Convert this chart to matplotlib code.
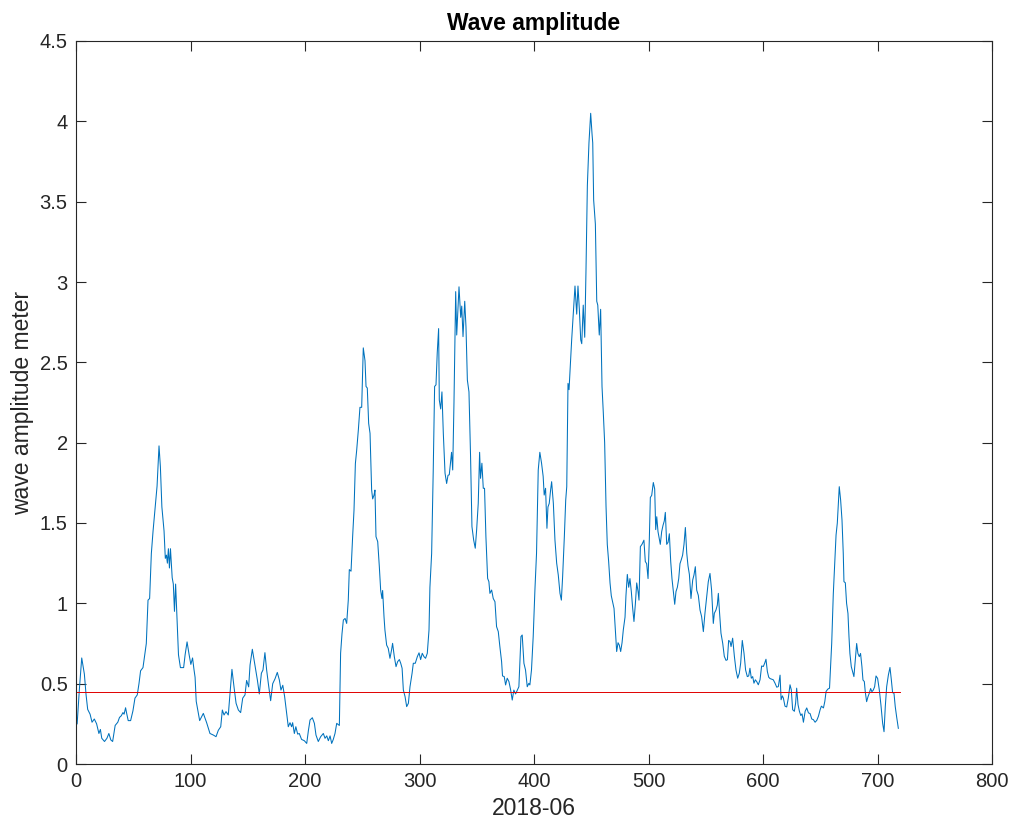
import matplotlib
matplotlib.use("Agg")
import matplotlib.pyplot as plt

# wave amplitude samples (sample index, metres)
x_a = [1, 3, 5, 7.3, 8.8, 10.2, 12.3, 14, 16, 18, 20, 21.3, 22.5, 24.9, 27, 28.7, 30.4, 32,
       34.2, 36.5, 38, 39.5, 41, 42, 43.3, 44.4, 45.6, 47.7, 49.7, 51.5, 53.5, 55, 56.4, 58.5,
       60, 61.4, 62.9, 64.3, 65.8, 67.3, 68.7, 70.8, 72.5, 73.7, 75, 76.9, 78, 79, 79.8, 80.7,
       81.6, 82.5, 84, 85, 86, 87, 88.3, 89.5, 91.2, 94, 95.3, 97, 98.8, 100.3, 101.8, 103,
       104, 105, 106.7, 108]
y_a = [0.25, 0.47, 0.66, 0.56, 0.43, 0.34, 0.31, 0.26, 0.28, 0.25, 0.19, 0.215, 0.16, 0.14,
       0.16, 0.19, 0.15, 0.14, 0.24, 0.26, 0.29, 0.30, 0.32, 0.31, 0.35, 0.31, 0.27, 0.27, 0.33,
       0.41, 0.43, 0.50, 0.58, 0.60, 0.68, 0.75, 1.02, 1.03, 1.31, 1.45, 1.56, 1.73, 1.98, 1.85,
       1.60, 1.45, 1.28, 1.30, 1.25, 1.34, 1.22, 1.34, 1.16, 1.12, 0.95, 1.12, 0.89, 0.68, 0.60,
       0.60, 0.68, 0.76, 0.68, 0.62, 0.66, 0.59, 0.54, 0.39, 0.32, 0.27]

x_b = [111.2, 114.1, 117, 120, 122.3, 124.3, 126.4, 127.8, 129.3, 131, 133, 134.5, 136.2, 138,
       139.8, 141.8, 143.8, 145.6, 147.6, 149, 150.8, 152, 154, 155.5, 157, 158.4, 160.1, 161.9,
       163.3, 165, 166.5, 168, 170, 171.8, 173.8, 175.8, 177.6, 179, 180.6, 182.2, 184, 185.4,
       186.9, 188.3, 189.2, 190.7, 192, 193.6, 195, 197, 199.4, 201.5, 203, 204.4, 206.4, 208.2,
       209.6, 211.6, 213.7, 216, 217.5, 219, 220.4, 221.9, 223.3, 224.7, 226.2, 227.7]
y_b = [0.315, 0.257, 0.19, 0.18, 0.17, 0.21, 0.232, 0.336, 0.305, 0.326, 0.305, 0.44, 0.589,
       0.48, 0.378, 0.336, 0.32, 0.41, 0.43, 0.52, 0.48, 0.616, 0.714, 0.65, 0.585, 0.523, 0.436,
       0.565, 0.585, 0.693, 0.585, 0.50, 0.394, 0.50, 0.53, 0.57, 0.523, 0.46, 0.49, 0.42, 0.315,
       0.232, 0.257, 0.232, 0.257, 0.19, 0.232, 0.186, 0.19, 0.153, 0.145, 0.128, 0.21, 0.274,
       0.288, 0.253, 0.18, 0.14, 0.17, 0.19, 0.16, 0.175, 0.145, 0.175, 0.128, 0.153, 0.19, 0.253]

x_c = [230, 231.1, 232.3, 233.5, 235, 236.4, 237.8, 238.7, 240.2, 241.6, 242.8, 244, 245.1,
       246.6, 248, 249.5, 250.9, 252.4, 253.3, 254.4, 255.6, 256.8, 258.2, 259.1, 260.3, 261.1,
       262, 263.5, 264.9, 266.1, 267.2, 267.8, 269, 269.8, 271.3, 272.7, 274.2, 275.6, 276.5,
       278, 279.5, 280.9, 282.4, 283.6, 284.8, 285.9, 287.4, 288.8, 290.3, 291.7, 293.5, 294.6,
       296.3, 298.1, 299.6, 301, 302.4, 303.9, 305.3, 306.8, 308.3, 309.1, 310.6, 312, 313.2,
       314.4, 315.5, 316.7, 317.3, 318.5, 319.6, 320.8, 322.3, 323.7, 324.9, 326]
y_c = [0.24, 0.69, 0.81, 0.896, 0.906, 0.875, 1.02, 1.21, 1.20, 1.415, 1.58, 1.87, 1.95, 2.08,
       2.22, 2.22, 2.59, 2.51, 2.35, 2.34, 2.12, 2.058, 1.705, 1.65, 1.674, 1.705, 1.415, 1.384,
       1.23, 1.08, 1.03, 1.08, 0.917, 0.834, 0.74, 0.72, 0.658, 0.71, 0.751, 0.668, 0.606, 0.637,
       0.65, 0.627, 0.596, 0.46, 0.419, 0.357, 0.378, 0.481, 0.564, 0.627, 0.627, 0.668, 0.692,
       0.65, 0.689, 0.668, 0.658, 0.689, 0.834, 1.10, 1.31, 1.83, 2.35, 2.36, 2.56, 2.71, 2.265,
       2.21, 2.316, 2.058, 1.81, 1.746, 1.797, 1.80]

x_d = [328, 329, 330.1, 331.6, 332.5, 334.5, 336, 336.9, 338, 339.5, 340.6, 341.8, 343.2, 344.6,
       345.8, 347.3, 348.7, 349.9, 351.3, 352.5, 353.3, 354.5, 355.7, 356.8, 358, 359.5, 360.6,
       361.5, 363, 364.4, 365.9, 367.3, 368.8, 370.2, 371.7, 372.5, 374, 375.2, 376.6, 378.1,
       379.5, 381, 382.4, 383.9, 385.3, 386.8, 388.6, 389.7, 391.2, 392.6, 394.1, 395.5, 396.4,
       397.8, 399.3, 400.8, 402.2, 403.7, 405.1, 406.6, 408, 408.9, 410.1, 411.3, 412.2, 413.3,
       414.5, 415.4, 416.9, 418.3, 419.8, 421.2, 422.7, 423.9, 425, 426.5, 427.7, 428.6, 429.7,
       430.6]
y_d = [1.94, 1.83, 2.245, 2.94, 2.67, 2.97, 2.78, 2.85, 2.66, 2.88, 2.72, 2.39, 2.316, 1.913,
       1.478, 1.394, 1.343, 1.457, 1.622, 1.94, 1.778, 1.872, 1.716, 1.716, 1.415, 1.155, 1.135,
       1.062, 1.083, 1.03, 1.01, 0.855, 0.824, 0.73, 0.637, 0.548, 0.544, 0.492, 0.534, 0.513,
       0.465, 0.398, 0.46, 0.436, 0.457, 0.481, 0.793, 0.803, 0.627, 0.585, 0.481, 0.502, 0.492,
       0.585, 0.793, 1.083, 1.31, 1.83, 1.94, 1.872, 1.79, 1.674, 1.716, 1.467, 1.60, 1.622,
       1.705, 1.757, 1.622, 1.394, 1.25, 1.176, 1.062, 1.02, 1.166, 1.415, 1.643, 1.726, 2.369,
       2.33]

x_e = [432.9, 434.3, 435.8, 437.3, 438.4, 439.6, 440.8, 441.7, 443, 444.3, 445.4, 446.6, 448,
       449.5, 450.7, 451.3, 452.1, 453.6, 454.8, 455.7, 457, 458.2, 459.4, 460.5, 461.7, 462.9,
       464, 465.2, 466.4, 467.5, 468.7, 469.9, 471, 472.2, 473.4, 474.5, 475.7, 476.9, 478,
       479.5, 480.3, 481.5, 482.7, 483.8, 485, 486.2, 487.3, 488.5, 489.7, 490.9, 491.7, 492.9,
       494.3, 496, 497.2, 498.4, 499.6, 500.7, 501.6, 502.8, 504.2, 505.4, 506.3, 507.2, 508.3,
       510.3, 511.5, 512.7, 513.8, 514.7, 515.9, 517.1, 518.2, 519.4, 520.5, 521.7, 522.9, 524,
       525.2, 526.4, 527.5, 528.7, 529.8, 531, 532.2, 533.4, 534.5, 535.7]
y_e = [2.64, 2.80, 2.975, 2.80, 2.975, 2.83, 2.64, 2.616, 2.856, 2.656, 3.07, 3.60, 3.866, 4.05,
       3.92, 3.866, 3.51, 3.36, 2.88, 2.856, 2.67, 2.83, 2.35, 2.19, 2.00, 1.605, 1.367, 1.26,
       1.127, 1.047, 1.007, 0.968, 0.835, 0.70, 0.755, 0.74, 0.70, 0.755, 0.835, 0.914, 1.047,
       1.18, 1.10, 1.154, 1.073, 0.968, 0.887, 0.994, 1.127, 1.073, 1.02, 1.353, 1.367, 1.393,
       1.26, 1.247, 1.154, 1.393, 1.659, 1.672, 1.752, 1.712, 1.459, 1.539, 1.446, 1.367, 1.446,
       1.486, 1.513, 1.566, 1.367, 1.38, 1.433, 1.26, 1.154, 1.073, 0.994, 1.073, 1.10, 1.154,
       1.247, 1.273, 1.30, 1.367, 1.472, 1.313, 1.233, 1.18]

x_f = [537.1, 538.6, 539.7, 540.9, 542.1, 543.5, 545, 546.4, 547.9, 549.3, 550.8, 552.2, 553.7,
       555.1, 556.6, 557.5, 558.9, 560.1, 561, 561.9, 563.3, 564.8, 566.2, 567.7, 568.9, 570,
       571.2, 572.1, 573.5, 575, 576.4, 577.9, 579.3, 580.5, 581.9, 583.4, 584.8, 586.3, 587.5,
       588.6, 589.8, 591, 592.1, 593.3, 594.5, 595.9, 597.4, 598.8, 600.3, 601.5, 602.6, 603.8,
       605, 606.1, 607.6, 609, 610.5, 612, 613.4, 614.9, 615.8, 616.9, 617.8, 619.2, 620.7,
       622.1, 623.6, 624.7, 625.9, 627.4, 628.5, 629.4, 630.6, 631.8, 633, 634.1, 635.3, 636.8,
       638.2, 639.7, 641.1, 642.6, 644, 645.5, 647, 648.4, 649.9, 651, 652.8, 654, 655.1, 656.6,
       658.1]
y_f = [1.03, 1.145, 1.176, 1.228, 1.082, 1.05, 0.958, 0.917, 0.824, 0.938, 1.04, 1.134, 1.186,
       1.082, 0.875, 0.938, 0.958, 0.989, 1.062, 0.958, 0.814, 0.752, 0.67, 0.645, 0.649, 0.769,
       0.762, 0.731, 0.783, 0.67, 0.585, 0.534, 0.565, 0.628, 0.769, 0.69, 0.585, 0.544, 0.548,
       0.596, 0.534, 0.544, 0.503, 0.524, 0.513, 0.493, 0.524, 0.61, 0.607, 0.628, 0.652, 0.576,
       0.54, 0.532, 0.528, 0.524, 0.503, 0.478, 0.482, 0.553, 0.40, 0.424, 0.41, 0.36, 0.355,
       0.41, 0.493, 0.462, 0.338, 0.328, 0.38, 0.472, 0.369, 0.328, 0.302, 0.312, 0.26, 0.328,
       0.349, 0.318, 0.314, 0.28, 0.276, 0.26, 0.272, 0.297, 0.338, 0.36, 0.349, 0.39, 0.452,
       0.466, 0.472]

x_g = [660, 661.4, 662.9, 663.8, 664.9, 665.8, 666.6, 667.8, 669, 670.1, 670.7, 671.9, 673,
       674.2, 675.1, 675.9, 677.1, 678.3, 679.4, 680.6, 681.8, 682.9, 684.1, 685.2, 686.4, 687.3,
       688.5, 689.3, 690.5, 691.7, 692.8, 694, 695.1, 696.3, 697.5, 698.7, 700.1, 701.6, 703,
       704.5, 705.7, 706.8, 708, 709.5, 710.9, 712.1, 713.2, 714.4, 715.5, 716.7, 718.2]
y_g = [0.75, 1.06, 1.29, 1.425, 1.50, 1.622, 1.726, 1.643, 1.518, 1.31, 1.135, 1.128, 1.0, 0.937,
       0.792, 0.688, 0.606, 0.575, 0.544, 0.647, 0.75, 0.688, 0.668, 0.688, 0.606, 0.523, 0.513,
       0.45, 0.388, 0.419, 0.44, 0.47, 0.45, 0.46, 0.481, 0.548, 0.533, 0.46, 0.367, 0.253, 0.201,
       0.357, 0.481, 0.554, 0.601, 0.523, 0.444, 0.44, 0.357, 0.294, 0.222]

wave_x = x_a + x_b + x_c + x_d + x_e + x_f + x_g
wave_y = y_a + y_b + y_c + y_d + y_e + y_f + y_g

level_x = [1, 720]
level_y = [0.45, 0.45]

xticks = [0, 100, 200, 300, 400, 500, 600, 700, 800]
yticks = [0, 0.5, 1, 1.5, 2, 2.5, 3, 3.5, 4, 4.5]
ytick_labels = ['0', '0.5', '1', '1.5', '2', '2.5', '3', '3.5', '4', '4.5']

plt.rcParams['font.family'] = ['Liberation Sans', 'DejaVu Sans']
axcol = '#262626'

fig = plt.figure(figsize=(10.1, 8.3), dpi=100)
ax = fig.add_axes([76 / 1010, 66 / 830, 916 / 1010, 723 / 830])

ax.plot(wave_x, wave_y, color='#0072BD', linewidth=0.75)
ax.plot(level_x, level_y, color='#E00000', linewidth=0.7)

ax.set_xlim(0, 800)
ax.set_ylim(0, 4.5)
ax.set_xticks(xticks)
ax.set_xticklabels([str(t) for t in xticks])
ax.set_yticks(yticks)
ax.set_yticklabels(ytick_labels)

ax.tick_params(direction='in', length=7, width=0.8, top=True, right=True,
               labelsize=14.5, colors=axcol, pad=6)
for s in ax.spines.values():
    s.set_color(axcol)
    s.set_linewidth(0.8)

ax.set_title('Wave amplitude', fontsize=16.5, fontweight='bold', color='black', pad=8)
ax.set_xlabel('2018-06', fontsize=16.5, color=axcol, labelpad=4)
ax.set_ylabel('wave amplitude meter', fontsize=16.5, color=axcol, labelpad=4)

fig.savefig('out.png', dpi=100)
